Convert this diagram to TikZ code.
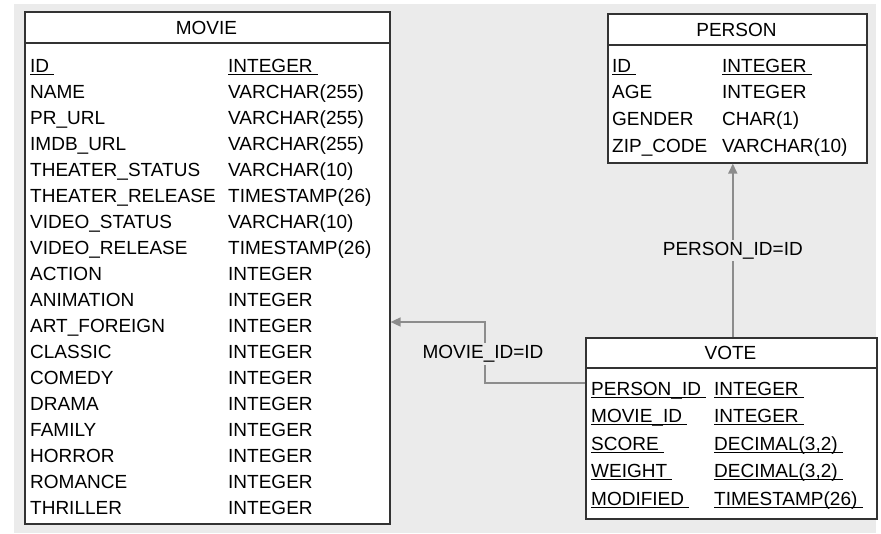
\documentclass[tikz,border=0pt]{standalone}
\usepackage{fontspec}
\setmainfont{Liberation Sans}
\usetikzlibrary{arrows.meta}

\definecolor{canvas}{HTML}{EBEBEB}
\definecolor{relgray}{HTML}{8C8C8C}
\newcommand{\pk}[1]{\setbox0\hbox{#1\ }\rlap{\rule[-2.5pt]{\wd0}{1pt}}\box0}

\tikzset{
	tbl/.style={draw=black!80, fill=white, line width=1.6pt, inner sep=0pt},
	hdr/.style={font=\fontsize{19}{21}\selectfont, inner sep=0pt, anchor=base},
	fld/.style={font=\fontsize{19}{21}\selectfont, inner sep=0pt, anchor=base west},
	fk/.style={draw=relgray, line width=1.6pt, -{Triangle[length=10pt,width=9pt]}},
	lbl/.style={font=\fontsize{19}{21}\selectfont, fill=canvas, inner sep=2pt}
}

\begin{document}
\begin{tikzpicture}[x=1pt,y=-1pt]
			\useasboundingbox (0,0) rectangle (881,533);
			\fill[canvas] (14,4) rectangle (876,533);

			% MOVIE
			\node[tbl, minimum width=365pt, minimum height=512pt, anchor=north west] (movie) at (24,11) {};
			\draw[line width=1.6pt, black!80] ([yshift=-32pt]movie.north west) -- ([yshift=-32pt]movie.north east);
			\node[hdr] (movie-title) at (206.5,34) {MOVIE};
			\foreach \fname/\ftype [count=\i from 0] in {\pk{ID}/\pk{INTEGER},NAME/VARCHAR(255),PR\_URL/VARCHAR(255),IMDB\_URL/VARCHAR(255),THEATER\_STATUS/VARCHAR(10),THEATER\_RELEASE/TIMESTAMP(26),VIDEO\_STATUS/VARCHAR(10),VIDEO\_RELEASE/TIMESTAMP(26),ACTION/INTEGER,ANIMATION/INTEGER,ART\_FOREIGN/INTEGER,CLASSIC/INTEGER,COMEDY/INTEGER,DRAMA/INTEGER,FAMILY/INTEGER,HORROR/INTEGER,ROMANCE/INTEGER,THRILLER/INTEGER}{
				\node[fld] (movie-f\i) at (30,{72+26*\i}) {\fname};
				\node[fld] (movie-t\i) at (228,{72+26*\i}) {\ftype};
			}

			% PERSON
			\node[tbl, minimum width=259pt, minimum height=149pt, anchor=north west] (person) at (607,13) {};
			\draw[line width=1.6pt, black!80] ([yshift=-32pt]person.north west) -- ([yshift=-32pt]person.north east);
			\node[hdr] (person-title) at (736.5,36) {PERSON};
			\foreach \fname/\ftype [count=\i from 0] in {\pk{ID}/\pk{INTEGER},AGE/INTEGER,GENDER/CHAR(1),ZIP\_CODE/VARCHAR(10)}{
				\node[fld] (person-f\i) at (612,{72+26.7*\i}) {\fname};
				\node[fld] (person-t\i) at (722,{72+26.7*\i}) {\ftype};
			}

			% VOTE
			\node[tbl, minimum width=291pt, minimum height=181pt, anchor=north west] (vote) at (585,337) {};
			\draw[line width=1.6pt, black!80] ([yshift=-31pt]vote.north west) -- ([yshift=-31pt]vote.north east);
			\node[hdr] (vote-title) at (730.5,359) {VOTE};
			\foreach \fname/\ftype [count=\i from 0] in {PERSON\_ID/INTEGER,MOVIE\_ID/INTEGER,SCORE/DECIMAL(3{,}2),WEIGHT/DECIMAL(3{,}2),MODIFIED/TIMESTAMP(26)}{
				\node[fld] (vote-f\i) at (591,{395+27.5*\i}) {\pk{\fname}};
				\node[fld] (vote-t\i) at (714,{395+27.5*\i}) {\pk{\ftype}};
			}

			% relations
			\coordinate (mv-bend) at (485,322);
			\draw[fk] (vote.west |- 0,383) -| (mv-bend) -- (movie.east |- mv-bend);
			\node[lbl] (mv-label) at (483,354) {MOVIE\_ID=ID};
			\draw[fk] ([xshift=1.5pt]vote.north) -- ([xshift=1.5pt]vote.north |- person.south) node[lbl, pos=0.5] (pr-label) {PERSON\_ID=ID};
		\end{tikzpicture}
\end{document}
